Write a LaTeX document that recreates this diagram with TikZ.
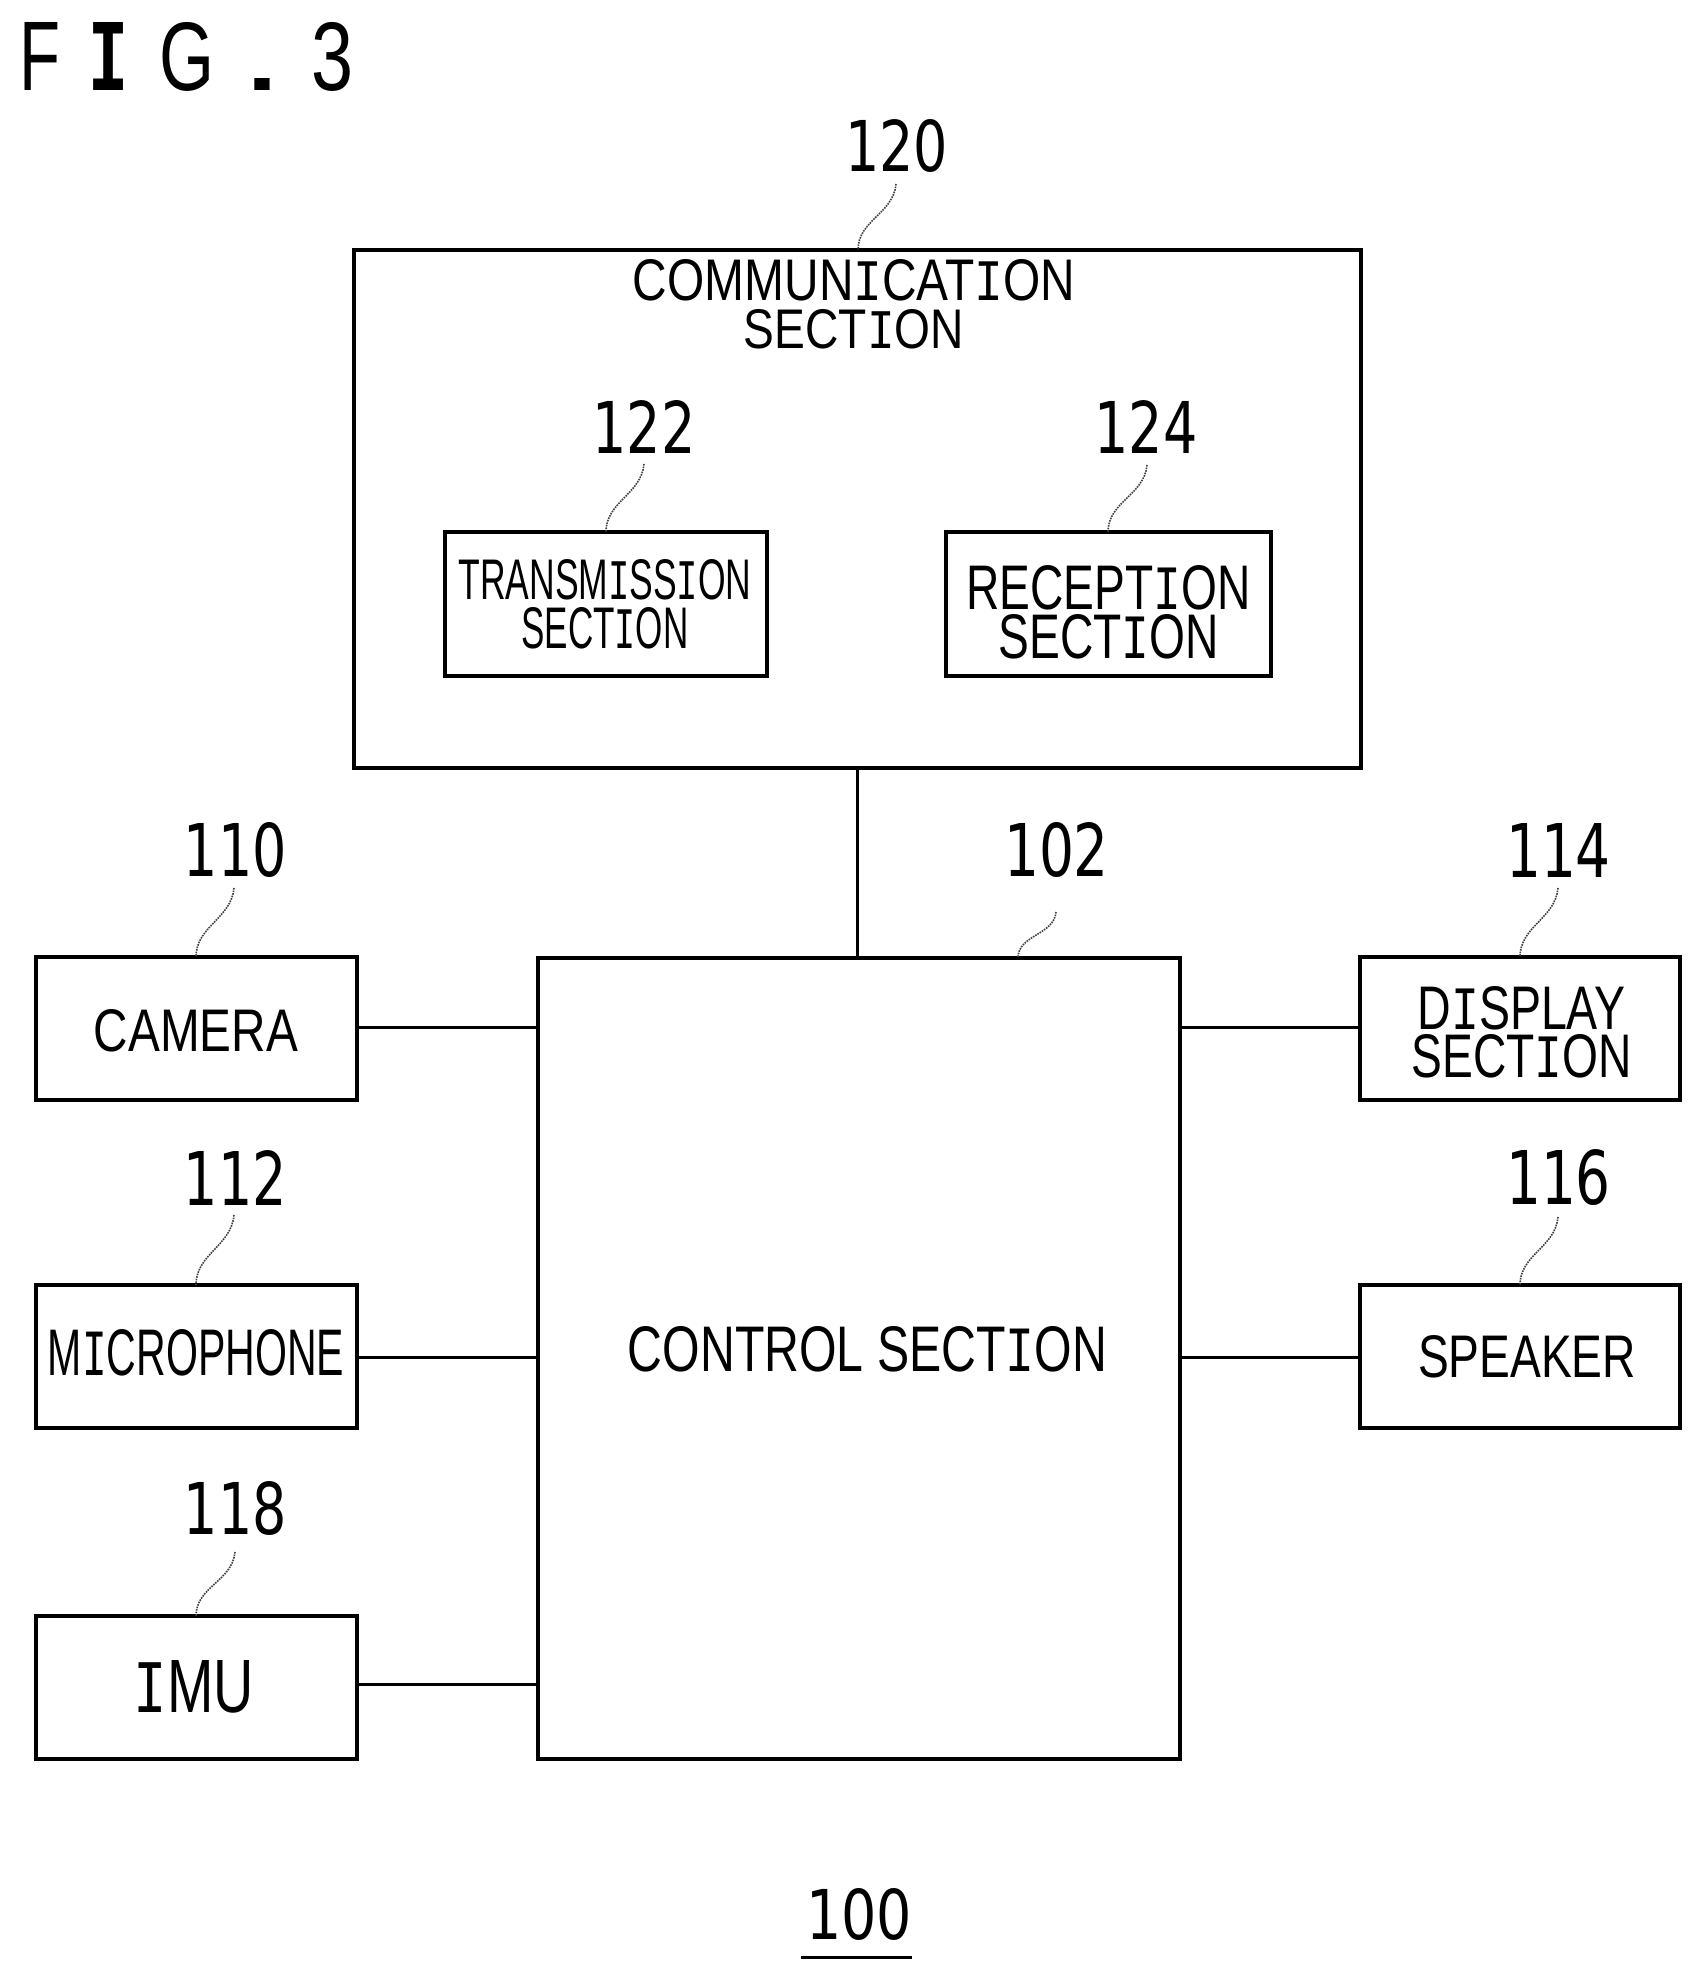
\documentclass[tikz,border=0pt]{standalone}
\usepackage{fontspec}
\usepackage{graphicx}
\setmainfont{Liberation Sans}
\newfontfamily\monof{Liberation Mono}
\newfontfamily\digf{DejaVu Sans}
\newcommand{\tx}[3]{\resizebox{#1pt}{#2pt}{#3}}
\newcommand{\num}[3]{\resizebox{#1pt}{#2pt}{\digf #3}}
\newcommand{\serifI}{{\monof I}}
\tikzset{
  x=1pt,y=-1pt,
  boxnode/.style={draw=black,line width=4pt,inner sep=0pt,outer sep=0pt,rectangle},
  txt/.style={inner sep=0pt,outer sep=0pt,align=center,text=black},
  wire/.style={draw=black,line width=3pt},
  leader/.style={draw=black!75,line width=1.6pt,densely dotted},
}
\begin{document}
\begin{tikzpicture}
\useasboundingbox (0,0) rectangle (1703,1980);
\fill[white] (0,0) rectangle (1703,1980);
% boxes
\node[boxnode,minimum width=1007pt,minimum height=518pt] (comm) at (857.5,509) {};
\node[boxnode,minimum width=322pt,minimum height=144pt] (trans) at (606,604) {};
\node[boxnode,minimum width=325pt,minimum height=144pt] (rec) at (1108.5,604) {};
\node[boxnode,minimum width=642pt,minimum height=801pt] (control) at (859,1358.5) {};
\node[boxnode,minimum width=321pt,minimum height=143pt] (camera) at (196.5,1028.5) {};
\node[boxnode,minimum width=321pt,minimum height=143pt] (mic) at (196.5,1356.5) {};
\node[boxnode,minimum width=321pt,minimum height=143pt] (imu) at (196.5,1687.5) {};
\node[boxnode,minimum width=320pt,minimum height=143pt] (display) at (1520,1028.5) {};
\node[boxnode,minimum width=320pt,minimum height=143pt] (speaker) at (1520,1356.5) {};
% box texts
\node[txt] (tcomm) at (854,304) {\tx{442}{41}{COMMUN\serifI CAT\serifI ON}\\[7pt]\tx{220}{39}{SECT\serifI ON}};
\node[txt] (ttrans) at (605,604) {\tx{293}{40}{TRANSM\serifI SS\serifI ON}\\[6pt]\tx{167}{41}{SECT\serifI ON}};
\node[txt] (trec) at (1108.5,612) {\tx{284}{44}{RECEPT\serifI ON}\\[3pt]\tx{220}{44}{SECT\serifI ON}};
\node[txt] (tcontrol) at (867.5,1349.5) {\tx{479}{45}{CONTROL SECT\serifI ON}};
\node[txt] (tcamera) at (196,1031) {\tx{204}{42}{CAMERA}};
\node[txt] (tmic) at (196,1353) {\tx{296}{46}{M\serifI CROPHONE}};
\node[txt] (timu) at (194,1687) {\tx{120}{52}{\serifI MU}};
\node[txt] (tdisplay) at (1521.5,1032) {\tx{208}{43}{D\serifI SPLAY}\\[3pt]\tx{220}{43}{SECT\serifI ON}};
\node[txt] (tspeaker) at (1527,1357) {\tx{218}{42}{SPEAKER}};
% wires
\draw[wire] (comm.south -| 857,0) -- (control.north -| 857,0);
\draw[wire] (camera.east |- 0,1027) -- (control.west |- 0,1027);
\draw[wire] (mic.east |- 0,1357) -- (control.west |- 0,1357);
\draw[wire] (imu.east |- 0,1684) -- (control.west |- 0,1684);
\draw[wire] (control.east |- 0,1027) -- (display.west |- 0,1027);
\draw[wire] (control.east |- 0,1357) -- (speaker.west |- 0,1357);
% reference numerals
\node[txt] (n120) at (896.5,146) {\num{103}{52}{120}};
\node[txt] (n122) at (644,426.5) {\num{103}{53}{122}};
\node[txt] (n124) at (1146,426.5) {\num{103}{53}{124}};
\node[txt] (n110) at (235.5,850) {\num{103}{54}{110}};
\node[txt] (n112) at (235.5,1177.5) {\num{103}{55}{112}};
\node[txt] (n118) at (235.5,1508.5) {\num{103}{53}{118}};
\node[txt] (n102) at (1056.5,850) {\num{105}{54}{102}};
\node[txt] (n114) at (1558.5,850) {\num{105}{54}{114}};
\node[txt] (n116) at (1558.5,1177.5) {\num{105}{55}{116}};
\node[txt] (n100) at (859,1914.5) {\num{106}{51}{100}};
\node[txt,anchor=south west] (fig) at (19,91) {\tx{41}{68}{F}\hspace{28.5pt}\tx{40}{68}{\monof\bfseries I}\hspace{30.5pt}\tx{55}{68}{G}\hspace{33pt}\tx{30}{12}{\bfseries .}\hspace{34pt}\tx{42}{68}{3}};
% leaders
\coordinate (s120) at (896,184);
\coordinate (s122) at (644,464);
\coordinate (s124) at (1147,465);
\coordinate (s110) at (234,888);
\coordinate (s112) at (234,1215);
\coordinate (s118) at (235,1552);
\coordinate (s102) at (1056,912);
\coordinate (s114) at (1558,888);
\coordinate (s116) at (1558,1217);
\draw[leader] (s120) to[out=-95,in=90] (comm.north -| 858,0);
\draw[leader] (s122) to[out=-95,in=90] (trans.north -| 606,0);
\draw[leader] (s124) to[out=-95,in=90] (rec.north -| 1108,0);
\draw[leader] (s110) to[out=-95,in=90] (camera.north -| 196,0);
\draw[leader] (s112) to[out=-95,in=90] (mic.north -| 196,0);
\draw[leader] (s118) to[out=-95,in=90] (imu.north -| 196,0);
\draw[leader] (s102) to[out=-95,in=90] (control.north -| 1018,0);
\draw[leader] (s114) to[out=-95,in=90] (display.north -| 1520,0);
\draw[leader] (s116) to[out=-95,in=90] (speaker.north -| 1520,0);
% underline of 100
\coordinate (ul) at (801,1957);
\coordinate (ur) at (912,1957);
\draw[black,line width=3pt] (ul) -- (ur);
\end{tikzpicture}
\end{document}
